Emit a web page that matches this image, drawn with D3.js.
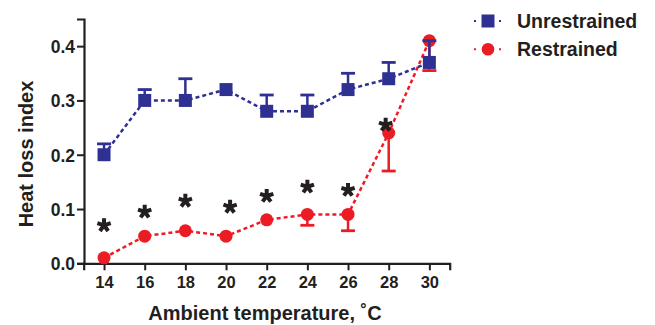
<!DOCTYPE html>
<html>
<head>
<meta charset="utf-8">
<script src="https://cdn.jsdelivr.net/npm/d3@7"></script>
<style>
  body { margin: 0; background: #fff; }
  svg text { font-family: 'Liberation Sans', Arial, sans-serif; font-weight: bold; fill: #231f20; }
</style>
</head>
<body>
<svg id="chart" width="655" height="325"></svg>
<script>
'use strict';

var temps = [14, 16, 18, 20, 22, 24, 26, 28, 30];
var unrestrained = [0.20, 0.30, 0.30, 0.32, 0.28, 0.28, 0.32, 0.34, 0.37];
var unrestrainedUpper = [0.22, 0.32, 0.34, null, 0.31, 0.31, 0.35, 0.37, 0.41];
var restrained = [0.01, 0.05, 0.06, 0.05, 0.08, 0.09, 0.09, 0.24, 0.41];
var restrainedLower = [null, null, null, null, null, 0.07, 0.06, 0.17, 0.355];
var starX = [14, 16, 18, 20.2, 22, 24, 26, 27.85];
var starY = [0.07, 0.095, 0.115, 0.104, 0.124, 0.141, 0.135, 0.255];
var yTicks = [0, 0.1, 0.2, 0.3, 0.4];
var xTicks = [14, 16, 18, 20, 22, 24, 26, 28, 30];
var seriesNames = ['Unrestrained', 'Restrained'];

var blueColor = '#2e3192';
var redColor = '#ec1c24';
var inkColor = '#231f20';

var svg = d3.select('#chart');
var x = d3.scaleLinear().domain([13, 31]).range([83.7, 449.7]);
var y = d3.scaleLinear().domain([0, 0.45]).range([263.3, 19]);

// axes
var xAxis = svg.append('g').attr('transform', 'translate(0,263.3)')
  .call(d3.axisBottom(x).tickValues(xTicks).tickSizeOuter(0).tickSize(7).tickPadding(6));
var yAxis = svg.append('g').attr('transform', 'translate(84,0)')
  .call(d3.axisLeft(y).tickValues(yTicks).tickFormat(d3.format('.1f')).tickSizeOuter(0).tickSize(7).tickPadding(2));
[xAxis, yAxis].forEach(function (a) {
  a.select('.domain').attr('stroke', inkColor).attr('stroke-width', 2.2);
  a.selectAll('.tick line').attr('stroke', inkColor).attr('stroke-width', 2);
  a.selectAll('.tick text').attr('fill', inkColor).style('font-size', '16.5px');
});
yAxis.selectAll('.tick text').style('font-size', '17.5px').attr('dy', '0.36em');

svg.append('text').attr('x', 265).attr('y', 319.5).attr('text-anchor', 'middle')
  .style('font-size', '20px').text('Ambient temperature, \u02daC');
svg.append('text').attr('transform', 'translate(33,154) rotate(-90)').attr('text-anchor', 'middle')
  .style('font-size', '20px').text('Heat loss index');

function drawSeries(vals, errs, color, shape) {
  var g = svg.append('g');
  g.append('path').datum(vals)
    .attr('d', d3.line().x(function (d, i) { return x(temps[i]); }).y(function (d) { return y(d); }))
    .attr('fill', 'none').attr('stroke', color).attr('stroke-width', 2.5).attr('stroke-dasharray', '4,3');
  temps.forEach(function (t, i) {
    if (errs[i] === null) return;
    g.append('line').attr('x1', x(t)).attr('x2', x(t)).attr('y1', y(vals[i])).attr('y2', y(errs[i]))
      .attr('stroke', color).attr('stroke-width', 2.5);
    g.append('line').attr('x1', x(t) - 7).attr('x2', x(t) + 7).attr('y1', y(errs[i])).attr('y2', y(errs[i]))
      .attr('stroke', color).attr('stroke-width', 2.8);
  });
  g.selectAll('.m').data(vals).enter().append('path')
    .attr('transform', function (d, i) { return 'translate(' + x(temps[i]) + ',' + y(d) + ')'; })
    .attr('d', shape).attr('fill', color);
}

var squareShape = d3.symbol().type(d3.symbolSquare).size(13 * 13)();
var circleShape = d3.symbol().type(d3.symbolCircle).size(Math.PI * 6.5 * 6.5)();
drawSeries(restrained, restrainedLower, redColor, circleShape);
drawSeries(unrestrained, unrestrainedUpper, blueColor, squareShape);

// significance stars, 5 arms
function starPath() {
  var p = d3.path();
  for (var k = 0; k < 5; k++) {
    var a = -Math.PI / 2 + k * 2 * Math.PI / 5;
    p.moveTo(0, 0);
    p.lineTo(7 * Math.cos(a), 7 * Math.sin(a));
  }
  return p.toString();
}
svg.selectAll('.star').data(starX).enter().append('path')
  .attr('transform', function (d, i) { return 'translate(' + x(d) + ',' + y(starY[i]) + ')'; })
  .attr('d', starPath()).attr('stroke', inkColor).attr('stroke-width', 4).attr('fill', 'none');

// legend
var legend = svg.append('g');
var legendShapes = [squareShape, d3.symbol().type(d3.symbolCircle).size(Math.PI * 6.3 * 6.3)()];
var legendColors = [blueColor, redColor];
seriesNames.forEach(function (name, i) {
  var cy = 21 + i * 28.3;
  [474, 499].forEach(function (dx) {
    legend.append('line').attr('x1', dx).attr('x2', dx + 2).attr('y1', cy).attr('y2', cy)
      .attr('stroke', legendColors[i]).attr('stroke-width', 2);
  });
  legend.append('path').attr('transform', 'translate(488,' + cy + ')').attr('d', legendShapes[i]).attr('fill', legendColors[i]);
  legend.append('text').attr('x', 517).attr('y', cy + 6.8).style('font-size', '19.5px').text(name);
});
</script>
</body>
</html>
